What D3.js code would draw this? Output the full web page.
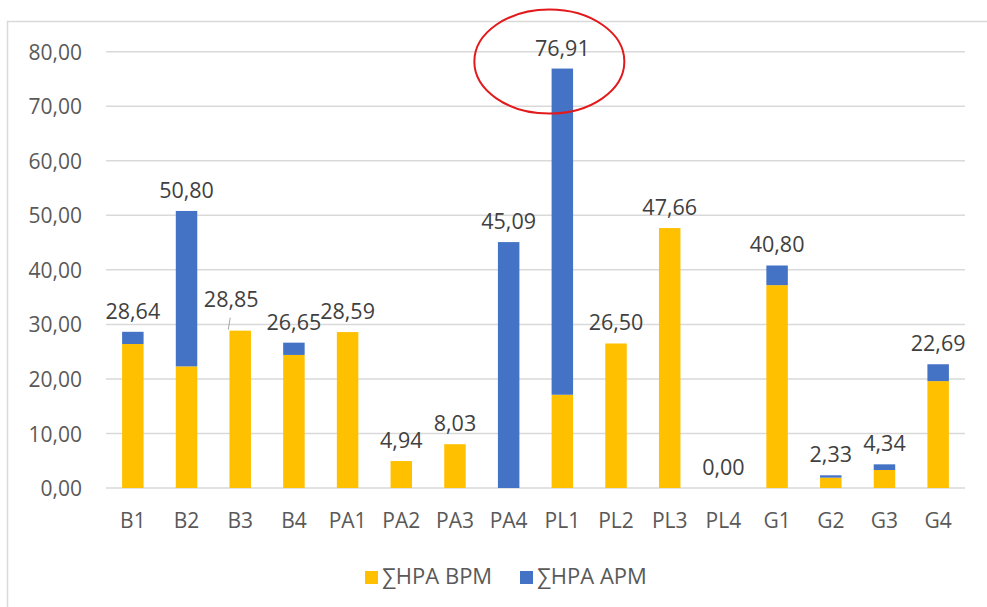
<!DOCTYPE html>
<html>
<head>
<meta charset="utf-8">
<script src="https://cdn.jsdelivr.net/npm/d3@7"></script>
<style>
  body { margin: 0; background: #fff; }
  svg text { font-family: "Open Sans", sans-serif; }
</style>
</head>
<body>
<div id="chart"></div>
<script>
(() => {
    const width = 987;
    const height = 607;

    // Data
    const categories = ["B1", "B2", "B3", "B4", "PA1", "PA2", "PA3", "PA4",
        "PL1", "PL2", "PL3", "PL4", "G1", "G2", "G3", "G4"];
    const bpm = [26.4, 22.3, 28.85, 24.4, 28.59, 4.94, 8.03, 0,
        17.1, 26.50, 47.66, 0, 37.2, 1.9, 3.3, 19.6];
    const totals = [28.64, 50.80, 28.85, 26.65, 28.59, 4.94, 8.03, 45.09,
        76.91, 26.50, 47.66, 0.00, 40.80, 2.33, 4.34, 22.69];
    const apm = totals.map((t, i) => +(t - bpm[i]).toFixed(2));
    const yTicks = [0, 10, 20, 30, 40, 50, 60, 70, 80];
    const seriesNames = ["∑HPA BPM", "∑HPA APM"];
    const seriesColors = ["#FFC000", "#4472C4"];

    const fmt = v => v.toFixed(2).replace(".", ",");

    const svg = d3.select("#chart")
        .append("svg")
        .attr("width", width)
        .attr("height", height);

    // Chart frame
    svg.append("rect")
        .attr("x", 7.5)
        .attr("y", 21.5)
        .attr("width", 1000)
        .attr("height", 700)
        .attr("fill", "none")
        .attr("stroke", "#d9d9d9")
        .attr("stroke-width", 1.5);

    const xScale = d3.scaleBand()
        .domain(categories)
        .range([106, 965])
        .paddingInner(0.6)
        .paddingOuter(0.3);

    const yScale = d3.scaleLinear()
        .domain([0, 80])
        .range([488, 51.7]);

    // Gridlines
    svg.append("g")
        .selectAll("line")
        .data(yTicks)
        .join("line")
        .attr("x1", 106)
        .attr("x2", 965)
        .attr("y1", d => yScale(d))
        .attr("y2", d => yScale(d))
        .attr("stroke", "#d9d9d9")
        .attr("stroke-width", 1.5);

    // Y-axis
    const yAxis = svg.append("g")
        .attr("transform", "translate(96, 0)")
        .call(d3.axisLeft(yScale).tickValues(yTicks).tickFormat(fmt).tickSize(0).tickPadding(14));
    yAxis.select(".domain").remove();
    yAxis.selectAll("text")
        .style("font-size", "21px")
        .style("font-family", "'Open Sans', sans-serif")
        .attr("dy", "0.36em")
        .style("fill", "#595959");

    // X-axis
    const xAxis = svg.append("g")
        .attr("transform", "translate(0, 488)")
        .call(d3.axisBottom(xScale).tickSize(0).tickPadding(25));
    xAxis.select(".domain").remove();
    xAxis.selectAll("text")
        .style("font-size", "21px")
        .style("font-family", "'Open Sans', sans-serif")
        .style("fill", "#595959");

    // Stacked bars
    const rows = categories.map((c, i) => ({ cat: c, bpm: bpm[i], apm: apm[i], total: totals[i] }));
    const stack = d3.stack().keys(["bpm", "apm"])(rows);

    svg.append("g")
        .selectAll("g")
        .data(stack)
        .join("g")
        .attr("fill", (d, i) => seriesColors[i])
        .selectAll("rect")
        .data(d => d)
        .join("rect")
        .attr("x", d => xScale(d.data.cat))
        .attr("y", d => yScale(d[1]))
        .attr("width", xScale.bandwidth())
        .attr("height", d => yScale(d[0]) - yScale(d[1]));

    // Total labels
    const labels = svg.append("g");
    rows.forEach(d => {
        let x = xScale(d.cat) + xScale.bandwidth() / 2;
        let y = yScale(d.total) - 13;
        if (d.cat === "B3") {
            // label pulled up-left with a leader line
            labels.append("line")
                .attr("x1", x - 12)
                .attr("y1", yScale(d.total) - 1)
                .attr("x2", x - 10)
                .attr("y2", yScale(d.total) - 13)
                .attr("stroke", "#a6a6a6")
                .attr("stroke-width", 1);
            x -= 9;
            y = yScale(d.total) - 24;
        }
        labels.append("text")
            .attr("x", x)
            .attr("y", y)
            .attr("text-anchor", "middle")
            .style("font-size", "21.5px")
            .style("fill", "#404040")
            .text(fmt(d.total));
    });

    // Red highlight ellipse around the PL1 total
    svg.append("ellipse")
        .attr("cx", xScale("PL1") + xScale.bandwidth() / 2 - 13)
        .attr("cy", yScale(totals[8]) - 7)
        .attr("rx", 75)
        .attr("ry", 52)
        .attr("fill", "none")
        .attr("stroke", "#e31a1c")
        .attr("stroke-width", 2);

    // Legend
    const legendX = [365, 520];
    const legend = svg.append("g");
    seriesNames.forEach((name, i) => {
        legend.append("rect")
            .attr("x", legendX[i])
            .attr("y", 571)
            .attr("width", 13)
            .attr("height", 13)
            .attr("fill", seriesColors[i]);
        legend.append("text")
            .attr("x", legendX[i] + 17)
            .attr("y", 584)
            .style("font-size", "22px")
            .style("fill", "#595959")
            .text(name);
    });
})();
</script>
</body>
</html>
